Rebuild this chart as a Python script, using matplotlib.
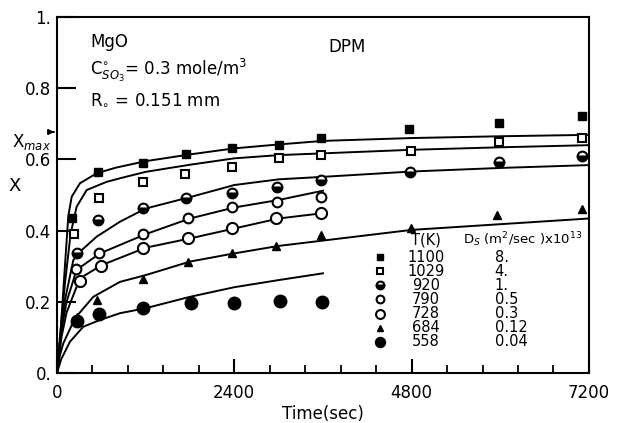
import matplotlib
matplotlib.use('Agg')
import matplotlib.pyplot as plt
from matplotlib.ticker import MultipleLocator

# measured points (time in sec, conversion X)
t_1100 = [200, 560, 1160, 1740, 2370, 3000, 3580, 4760, 5980, 7110]
X_1100 = [0.434, 0.564, 0.589, 0.614, 0.631, 0.640, 0.659, 0.684, 0.703, 0.722]
t_1029 = [235, 570, 1160, 1730, 2370, 3000, 3580, 4790, 5980, 7110]
X_1029 = [0.390, 0.492, 0.536, 0.559, 0.580, 0.603, 0.612, 0.625, 0.650, 0.661]
t_920 = [265, 560, 1160, 1740, 2365, 2980, 3580, 4780, 5980, 7100]
X_920 = [0.336, 0.430, 0.464, 0.492, 0.507, 0.522, 0.542, 0.566, 0.594, 0.610]
t_790 = [260, 575, 1165, 1770, 2370, 2980, 3570]
X_790 = [0.291, 0.336, 0.390, 0.434, 0.465, 0.481, 0.493]
t_728 = [310, 595, 1165, 1770, 2370, 2960, 3570]
X_728 = [0.259, 0.301, 0.352, 0.378, 0.406, 0.434, 0.449]
t_684 = [265, 540, 1160, 1770, 2370, 2965, 3570, 4790, 5960, 7110]
X_684 = [0.158, 0.205, 0.263, 0.313, 0.336, 0.358, 0.388, 0.406, 0.444, 0.460]
t_558 = [270, 570, 1165, 1810, 2390, 3020, 3590]
X_558 = [0.147, 0.165, 0.182, 0.196, 0.196, 0.202, 0.200]

# model curves (DPM)
ct_1100 = [0, 32, 77, 122, 153, 199, 311, 537, 800, 1200, 1800, 2400, 3000, 3600, 4800, 6000, 7200]
cX_1100 = [0, 0.065, 0.205, 0.345, 0.44, 0.495, 0.533, 0.561, 0.577, 0.595, 0.614, 0.631, 0.642, 0.652, 0.660, 0.665, 0.669]
ct_1029 = [0, 40, 108, 185, 266, 402, 672, 853, 1200, 1800, 2400, 3000, 3600, 4800, 6000, 7200]
cX_1029 = [0, 0.10, 0.252, 0.392, 0.467, 0.514, 0.537, 0.547, 0.565, 0.585, 0.603, 0.612, 0.617, 0.627, 0.634, 0.640]
ct_920 = [0, 40, 108, 221, 334, 537, 853, 1200, 1800, 2400, 3000, 3600, 4800, 6000, 7200]
cX_920 = [0, 0.09, 0.205, 0.317, 0.345, 0.383, 0.425, 0.462, 0.494, 0.528, 0.544, 0.551, 0.566, 0.576, 0.584]
ct_790 = [0, 60, 130, 266, 582, 1200, 1800, 2400, 3000, 3600]
cX_790 = [0, 0.12, 0.20, 0.29, 0.336, 0.39, 0.434, 0.465, 0.486, 0.512]
ct_728 = [0, 60, 130, 311, 605, 1200, 1800, 2400, 3000, 3600]
cX_728 = [0, 0.10, 0.17, 0.266, 0.303, 0.352, 0.378, 0.406, 0.434, 0.449]
ct_684 = [0, 40, 85, 244, 491, 853, 1200, 1800, 2400, 3000, 3600, 4800, 6000, 7200]
cX_684 = [0, 0.05, 0.083, 0.154, 0.214, 0.256, 0.275, 0.313, 0.336, 0.357, 0.372, 0.402, 0.418, 0.434]
ct_558 = [0, 60, 176, 356, 582, 853, 1200, 1800, 2400, 3000, 3600]
cX_558 = [0, 0.04, 0.088, 0.130, 0.149, 0.168, 0.182, 0.214, 0.241, 0.261, 0.280]

T_labels = ['1100', '1029', '920', '790', '728', '684', '558']
Ds_labels = ['8.', '4.', '1.', '0.5', '0.3', '0.12', '0.04']
X_max = 0.677

points = [(t_1100, X_1100), (t_1029, X_1029), (t_920, X_920), (t_790, X_790),
          (t_728, X_728), (t_684, X_684), (t_558, X_558)]
curves = [(ct_1100, cX_1100), (ct_1029, cX_1029), (ct_920, cX_920), (ct_790, cX_790),
          (ct_728, cX_728), (ct_684, cX_684), (ct_558, cX_558)]
styles = [
    dict(marker='s', ms=6, mfc='black', mec='black'),
    dict(marker='s', ms=5.5, mfc='white', mec='black', mew=1.5),
    dict(marker='o', ms=7, mfc='black', mec='black', fillstyle='bottom', markerfacecoloralt='white', mew=1.5),
    dict(marker='o', ms=7, mfc='white', mec='black', mew=1.5),
    dict(marker='o', ms=8, mfc='white', mec='black', mew=1.5),
    dict(marker='^', ms=5.5, mfc='black', mec='black'),
    dict(marker='o', ms=9, mfc='black', mec='black'),
]

fig = plt.figure(figsize=(6.18, 4.23), dpi=100)
ax = fig.add_axes([0.0922, 0.1182, 0.8608, 0.8416])

for (ct, cx) in curves:
    ax.plot(ct, cx, color='black', lw=1.4, zorder=2)
for (t, x), st in zip(points, styles):
    ax.plot(t, x, ls='none', zorder=3, **st)

ax.set_xlim(0, 7200)
ax.set_ylim(0, 1)
ax.xaxis.set_major_locator(MultipleLocator(2400))
ax.xaxis.set_minor_locator(MultipleLocator(480))
ax.set_yticks([0, 0.2, 0.4, 0.6, 0.8, 1.0])
ax.set_yticklabels(['0.', '0.2', '0.4', '0.6', '0.8', '1.'])
ax.tick_params(axis='x', which='major', direction='in', length=10, width=1.5, labelsize=12, pad=8)
ax.tick_params(axis='x', which='minor', direction='in', length=6, width=1.3)
ax.tick_params(axis='y', which='major', direction='in', length=14, width=1.5, labelsize=12, pad=4)
ax.tick_params(top=False, right=False)
for s in ax.spines.values():
    s.set_linewidth(1.5)

ax.set_xlabel('Time(sec)', fontsize=12, labelpad=2)
ax.set_ylabel('X', fontsize=13, rotation=0, labelpad=12)
ax.yaxis.set_label_coords(-0.08, 0.5)

# X_max mark on the left spine
ax.annotate('', xy=(0, X_max), xytext=(-0.012, X_max), xycoords=('axes fraction', 'data'),
            textcoords=('axes fraction', 'data'),
            arrowprops=dict(arrowstyle='-|>', color='black', lw=1.2, mutation_scale=8), annotation_clip=False)
ax.text(-0.012, X_max, r'X$_{max}$', transform=ax.get_yaxis_transform(), ha='right', va='top', fontsize=12)

# annotations
ax.text(0.063, 0.93, 'MgO', transform=ax.transAxes, fontsize=12, va='center')
ax.text(0.063, 0.85, r'C$^{\circ}_{SO_3}$= 0.3 mole/m$^3$', transform=ax.transAxes, fontsize=12, va='center')
ax.text(0.063, 0.77, r'R$_{\circ}$ = 0.151 mm', transform=ax.transAxes, fontsize=12, va='center')
ax.text(0.51, 0.915, 'DPM', transform=ax.transAxes, fontsize=12, va='center')

# legend table
ax.text(0.694, 0.374, 'T(K)', transform=ax.transAxes, fontsize=10.5, ha='center', va='center')
ax.text(0.763, 0.374, r'D$_S$ (m$^2$/sec )x10$^{13}$', transform=ax.transAxes, fontsize=9.5, ha='left', va='center')
for i, (tl, dl, st) in enumerate(zip(T_labels, Ds_labels, styles)):
    yy = 0.325 - i * 0.0395
    s2 = dict(st)
    s2['ms'] = st['ms'] * 0.8
    ax.plot([0.607], [yy], transform=ax.transAxes, ls='none', clip_on=False, **s2)
    ax.text(0.694, yy, tl, transform=ax.transAxes, fontsize=10.5, ha='center', va='center')
    ax.text(0.823, yy, dl, transform=ax.transAxes, fontsize=10.5, ha='left', va='center')

fig.savefig('out.png', dpi=100)
